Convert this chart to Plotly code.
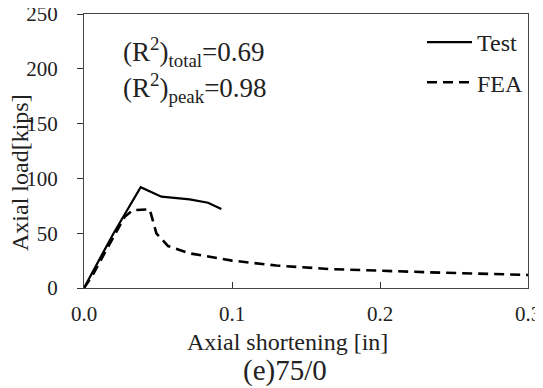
import plotly.graph_objects as go

test_x = [0.0, 0.005, 0.012, 0.020, 0.027, 0.033, 0.0383, 0.0523, 0.0714, 0.0838, 0.0928]
test_y = [0.0, 12, 30, 50, 66, 80, 92, 83.3, 80.9, 77.8, 72]

fea_x = [0.0, 0.006, 0.014, 0.022, 0.0275, 0.0331, 0.0444, 0.0489, 0.0568, 0.0714, 0.087, 0.100, 0.130, 0.166, 0.2336, 0.30]
fea_y = [0.0, 12, 32, 52, 65, 71, 71.8, 49.9, 38.3, 31.6, 28, 25, 20.5, 17.3, 14.3, 11.9]

x_ticks = [0.0, 0.1, 0.2, 0.3]
x_tick_labels = ["0.0", "0.1", "0.2", "0.3"]
y_ticks = [0, 50, 100, 150, 200, 250]

FONT = "Liberation Serif, Times New Roman, serif"

# page offset of the figure inside the browser page (default body margin)
OFF = 8
L, T, R, B = 84 - OFF, 14 - OFF, 15, 100
W, H = 543 - OFF, 388 - OFF
PW, PH = 444, 274


def px(xp):
    return (xp - 84) / PW


def py(yp):
    return (288 - yp) / PH


fig = go.Figure()
fig.add_trace(go.Scatter(x=test_x, y=test_y, mode="lines", name="Test",
                         line=dict(color="black", width=2.2), legendgroup="a"))
fig.add_trace(go.Scatter(x=fea_x, y=fea_y, mode="lines", name="FEA",
                         line=dict(color="black", width=2.6, dash="10px,6px"), legendgroup="b"))

fig.update_layout(
    width=W, height=H,
    margin=dict(l=L, r=R, t=T, b=B, autoexpand=False),
    paper_bgcolor="white", plot_bgcolor="white",
    font=dict(family=FONT, size=20, color="#222"),
    showlegend=True,
    legend=dict(x=px(529), xanchor="right", y=py(20), yanchor="top",
                bgcolor="rgba(0,0,0,0)", font=dict(size=24, family=FONT),
                traceorder="grouped", tracegroupgap=6, itemwidth=45),
    xaxis=dict(range=[0, 0.3], tickvals=x_ticks, ticktext=x_tick_labels,
               ticks="inside", ticklen=6, tickcolor="#333",
               showline=True, linecolor="#444", linewidth=1.3, mirror=True,
               showgrid=False, zeroline=False, tickfont=dict(size=21),
               ticklabelstandoff=7, ticklabeloverflow="allow", automargin=False),
    yaxis=dict(range=[0, 250], tickvals=y_ticks,
               ticks="outside", ticklen=6, tickcolor="#333",
               showline=True, linecolor="#444", linewidth=1.3, mirror=True,
               showgrid=False, zeroline=False, tickfont=dict(size=21),
               ticklabelstandoff=15, ticklabeloverflow="allow", automargin=False),
    annotations=[
        dict(text="Axial load[kips]", xref="paper", yref="paper", textangle=-90,
             x=px(20), y=py(173), showarrow=False,
             font=dict(size=24), xanchor="center", yanchor="middle"),
        dict(text="Axial shortening [in]", xref="paper", yref="paper",
             x=px(287), y=py(342), showarrow=False,
             font=dict(size=24), xanchor="center", yanchor="middle"),
        dict(text="(e)75/0", xref="paper", yref="paper",
             x=px(285), y=py(370), showarrow=False,
             font=dict(size=29), xanchor="center", yanchor="middle"),
        dict(text="(R<sup>2</sup>)<sub>total</sub>=0.69", xref="paper", yref="paper",
             x=px(121), y=py(52), showarrow=False,
             font=dict(size=27), xanchor="left", yanchor="middle"),
        dict(text="(R<sup>2</sup>)<sub>peak</sub>=0.98", xref="paper", yref="paper",
             x=px(121), y=py(88), showarrow=False,
             font=dict(size=27), xanchor="left", yanchor="middle"),
    ],
)

fig.write_html("out.html")
